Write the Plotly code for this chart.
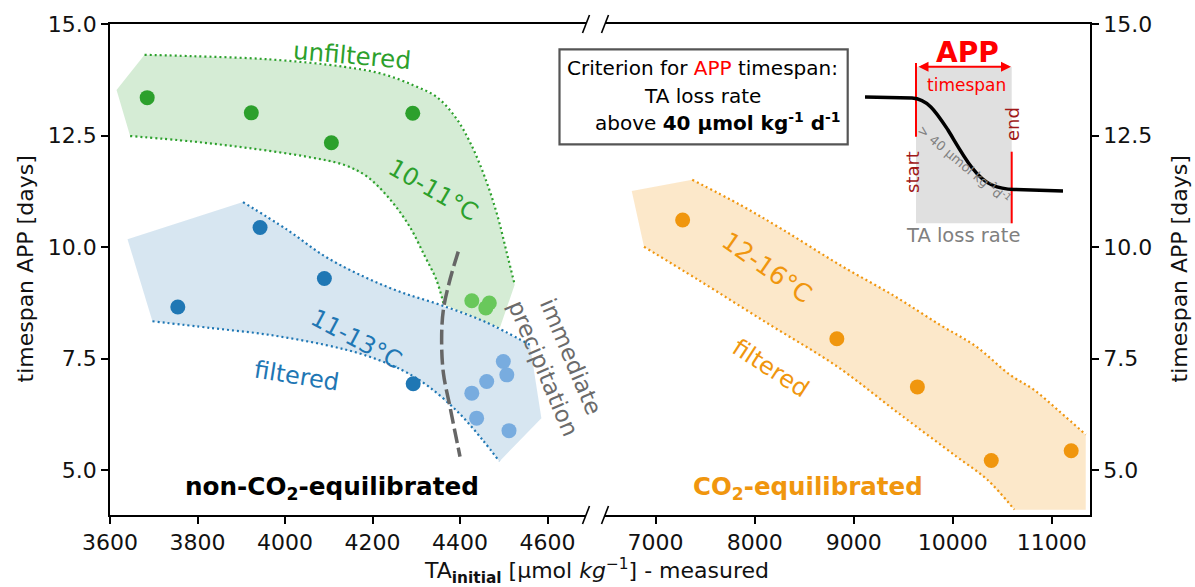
import plotly.graph_objects as go

# ---------------- data ----------------
# unfiltered, 10-11 °C (non-CO2-equilibrated)
green_x = [3685, 3923, 4106, 4292]
green_y = [13.35, 13.01, 12.34, 13.00]
# unfiltered, immediate precipitation
lgreen_x = [4427, 4467, 4459]
lgreen_y = [8.80, 8.75, 8.64]
# filtered, 11-13 °C
blue_x = [3755, 3943, 4090, 4293]
blue_y = [8.66, 10.44, 9.30, 6.94]
# filtered, immediate precipitation
lblue_x = [4499, 4507, 4461, 4427, 4438, 4512]
lblue_y = [7.44, 7.14, 6.99, 6.73, 6.17, 5.89]
# filtered, 12-16 °C (CO2-equilibrated)
orange_x = [7273, 8830, 9643, 10389, 11196]
orange_y = [10.61, 7.95, 6.87, 5.22, 5.44]

# band outlines (hand-drawn envelopes)
g_up_x = [3679, 3786, 3961, 4136, 4223, 4293, 4346, 4389, 4424, 4459, 4486, 4507, 4525]
g_up_y = [14.31, 14.28, 14.21, 14.04, 13.88, 13.63, 13.37, 12.92, 12.33, 11.51, 10.69, 9.87, 9.16]
g_lo_x = [3646, 3786, 3917, 4048, 4136, 4188, 4241, 4285, 4320, 4346, 4363]
g_lo_y = [12.49, 12.37, 12.22, 12.03, 11.84, 11.58, 11.06, 10.46, 9.79, 9.27, 8.71]
g_left = (3615, 13.52)
g_corner = (4491, 8.19)

b_up_x = [3904, 4005, 4092, 4180, 4263, 4354, 4457, 4560]
b_up_y = [11.01, 10.39, 9.79, 9.34, 9.00, 8.71, 8.33, 7.81]
b_lo_x = [3697, 3830, 3961, 4092, 4180, 4267, 4328, 4398, 4451, 4490]
b_lo_y = [8.34, 8.19, 8.04, 7.81, 7.59, 7.25, 6.88, 6.28, 5.69, 5.20]
b_left = (3640, 10.18)
b_corner = (4586, 6.17)

o_up_x = [7370, 7852, 8286, 8862, 9415, 9871, 10233, 10578, 10817, 11083, 11343]
o_up_y = [11.51, 10.95, 10.39, 9.60, 8.90, 8.26, 7.78, 7.14, 6.81, 6.31, 5.80]
o_lo_x = [6883, 7428, 8155, 8831, 9453, 10038, 10350, 10622]
o_lo_y = [10.01, 9.27, 8.26, 7.33, 6.28, 5.31, 4.79, 4.12]
o_left = (6759, 11.26)
o_corner = (11343, 4.12)

# immediate-precipitation boundary
prec_x = [4396, 4377, 4362, 4358, 4362, 4377, 4389, 4400]
prec_y = [9.90, 9.27, 8.60, 7.93, 7.18, 6.43, 5.84, 5.31]

left_ticks = [3600, 3800, 4000, 4200, 4400, 4600]
right_ticks = [7000, 8000, 9000, 10000, 11000]
y_ticks = [5.0, 7.5, 10.0, 12.5, 15.0]

# ---------------- layout helpers ----------------
W_FIG, H_FIG = 1195, 587
L, R, T, B = 110, 105, 24, 72
W = W_FIG - L - R
H = H_FIG - T - B


def px(x):
    return (x - L) / W


def py(y):
    return (H_FIG - B - y) / H


FONT = "DejaVu Sans"
GREEN = "#2ca02c"
LGREEN = "#69c85b"
BLUE = "#1f77b4"
LBLUE = "#78acdf"
ORANGE = "#f0960e"
GREY = "#6b6b6b"

fig = go.Figure()


def band(up_x, up_y, lo_x, lo_y, left, corner, fill, color, xa, ya):
    xs = [left[0]] + up_x + [corner[0]] + lo_x[::-1] + [left[0]]
    ys = [left[1]] + up_y + [corner[1]] + lo_y[::-1] + [left[1]]
    fig.add_trace(go.Scatter(x=xs, y=ys, fill="toself", fillcolor=fill, mode="none",
                             xaxis=xa, yaxis=ya, hoverinfo="skip"))
    for lx, ly in ((up_x, up_y), (lo_x, lo_y)):
        fig.add_trace(go.Scatter(x=lx, y=ly, mode="lines", xaxis=xa, yaxis=ya,
                                 line=dict(color=color, width=2.2, dash="2px,3px", shape="spline"),
                                 hoverinfo="skip"))


band(g_up_x, g_up_y, g_lo_x, g_lo_y, g_left, g_corner, "rgba(44,160,44,0.2)", GREEN, "x", "y")
band(b_up_x, b_up_y, b_lo_x, b_lo_y, b_left, b_corner, "rgba(31,119,180,0.18)", BLUE, "x", "y")
band(o_up_x, o_up_y, o_lo_x, o_lo_y, o_left, o_corner, "rgba(240,150,14,0.22)", ORANGE, "x2", "y2")

fig.add_trace(go.Scatter(x=prec_x, y=prec_y, mode="lines", xaxis="x", yaxis="y",
                         line=dict(color="#666666", width=3.5, dash="15px,5px", shape="spline")))


def pts(x, y, c, xa="x", ya="y"):
    fig.add_trace(go.Scatter(x=x, y=y, mode="markers", xaxis=xa, yaxis=ya,
                             marker=dict(color=c, size=15, line=dict(width=0))))


pts(green_x, green_y, GREEN)
pts(lgreen_x, lgreen_y, LGREEN)
pts(blue_x, blue_y, BLUE)
pts(lblue_x, lblue_y, LBLUE)
pts(orange_x, orange_y, ORANGE, "x2", "y2")

d_left = [0, px(586)]
d_right = [px(605), 1]
axcommon = dict(showline=True, linecolor="black", linewidth=1.6, ticks="outside", ticklen=7,
                tickwidth=1.5, tickcolor="black", showgrid=False, zeroline=False,
                tickfont=dict(family=FONT, size=22, color="#111"))

fig.update_layout(
    width=W_FIG, height=H_FIG, margin=dict(l=L, r=R, t=T, b=B),
    plot_bgcolor="white", paper_bgcolor="white", showlegend=False,
    xaxis=dict(domain=d_left, range=[3600, 4688], tickvals=left_ticks,
               ticktext=[str(v) for v in left_ticks], mirror=True, anchor="y", **axcommon),
    xaxis2=dict(domain=d_right, range=[6489, 11386], tickvals=right_ticks,
                ticktext=[str(v) for v in right_ticks], mirror=True, anchor="y2", **axcommon),
    yaxis=dict(range=[4, 15], tickvals=y_ticks, ticktext=[f"{v:.1f}" for v in y_ticks], anchor="x", **axcommon),
    yaxis2=dict(range=[4, 15], tickvals=y_ticks, ticktext=[f"{v:.1f}" for v in y_ticks], anchor="x2",
                side="right", **axcommon),
)

shapes = []
# axis break marks
for xa in (d_left[1], d_right[0]):
    for ya in (0, 1):
        shapes.append(dict(type="line", xref="paper", yref="paper", xsizemode="pixel", ysizemode="pixel",
                           xanchor=xa, yanchor=ya, x0=-3.5, x1=3.5, y0=-9, y1=9,
                           line=dict(color="black", width=1.6)))

# criterion box
shapes.append(dict(type="rect", xref="paper", yref="paper", x0=px(559.5), x1=px(847.7), y0=py(144.3), y1=py(49.3),
                   line=dict(color="#555555", width=2.2), fillcolor="white"))
# schematic inset
shapes.append(dict(type="rect", xref="paper", yref="paper", x0=px(916), x1=px(1011.7), y0=py(223.3), y1=py(66.7),
                   line=dict(width=0), fillcolor="#e0e0e0"))
shapes.append(dict(type="line", xref="paper", yref="paper", x0=px(916), x1=px(916), y0=py(136.7), y1=py(63),
                   line=dict(color="red", width=2)))
shapes.append(dict(type="line", xref="paper", yref="paper", x0=px(1011.7), x1=px(1011.7), y0=py(223.3),
                   y1=py(151.7), line=dict(color="red", width=2)))


def P(x, y):
    return f"{px(x):.5f},{py(y):.5f}"


path = (f"M {P(865, 97)} L {P(912, 98)} C {P(928, 99)} {P(936, 112)} {P(948, 130)} "
        f"C {P(962, 153)} {P(975, 178)} {P(992, 185)} C {P(1000, 188.5)} {P(1006, 189.3)} {P(1014, 189.5)} "
        f"L {P(1063, 191)}")
shapes.append(dict(type="path", xref="paper", yref="paper", path=path, line=dict(color="black", width=3.5)))
fig.update_layout(shapes=shapes)

ANF = "DejaVu Sans"


def ann(text, x, y, size, color, angle=0, family=ANF, **kw):
    fig.add_annotation(text=text, x=px(x), y=py(y), xref="paper", yref="paper", showarrow=False,
                       textangle=angle, font=dict(family=family, size=size, color=color),
                       xanchor="center", yanchor="middle", **kw)


ann("unfiltered", 352, 55, 24.5, GREEN, 5)
ann("10-11°C", 433, 190, 24, GREEN, 30)
ann("11-13°C", 356, 339, 24, BLUE, 28)
ann("filtered", 296, 376, 24, BLUE, 9)
ann("12-16°C", 767, 267, 25, ORANGE, 35)
ann("filtered", 770, 368, 24, ORANGE, 33)
ann("immediate<br>precipitation", 557, 362, 23, GREY, 67)
ann("<b>non-CO<sub>2</sub>-equilibrated</b>", 332, 488, 24.7, "black")
ann("<b>CO<sub>2</sub>-equilibrated</b>", 808, 488, 24.5, ORANGE)

# criterion box text
ann("Criterion for <span style='color:red'>APP</span> timespan:", 702, 68, 20, "black")
ann("TA loss rate", 702, 96, 20, "black")
ann("above <b>40 µmol kg<sup>-1</sup> d<sup>-1</sup></b>", 718, 122, 20, "black")

# schematic labels
ann("<b>APP</b>", 967, 52, 28, "red")
ann("timespan", 966, 85, 17, "red")
ann("start", 912, 172, 18, "#a01818", -90)
ann("end", 1012, 124, 18, "#a01818", -90)
ann("&gt; 40 µmol kg<sup>-1</sup>d<sup>-1</sup>", 964, 164, 13, "#808080", 40)
ann("TA loss rate", 963, 235, 19.5, "#808080")
fig.add_annotation(x=px(1011), y=py(66.7), xref="paper", yref="paper", ax=-94, ay=0, text="",
                   showarrow=True, arrowhead=2, arrowside="end+start", arrowsize=1, arrowwidth=2,
                   arrowcolor="red")

# axis titles
ann("timespan APP [days]", 25, 269.5, 22, "#111", -90, family=FONT)
ann("timespan APP [days]", 1179, 269.5, 22, "#111", -90, family=FONT)
ann("TA<sub><b>initial</b></sub> [µmol <i>kg</i><sup>−1</sup>] - measured", 596, 571, 22, "#111", family=FONT)

fig.write_html("out.html", config={"displayModeBar": False},
               post_script="document.body.style.margin='0px';document.body.style.overflow='hidden';")
